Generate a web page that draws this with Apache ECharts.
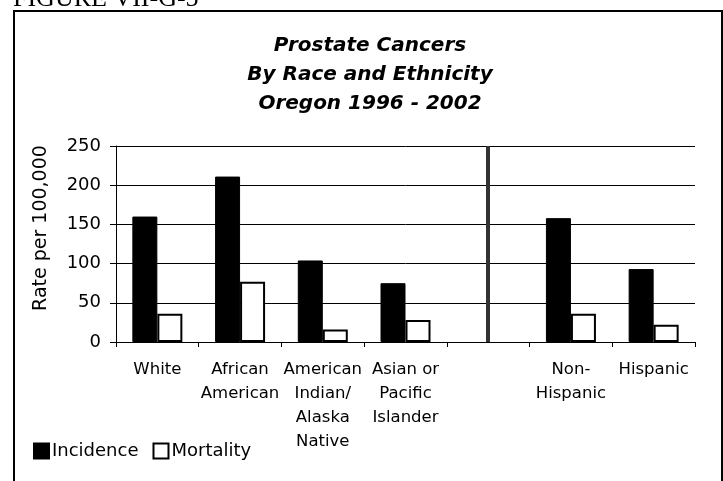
<!DOCTYPE html>
<html>
<head>
<meta charset="utf-8">
<script src="https://cdn.jsdelivr.net/npm/echarts@6/dist/echarts.min.js"></script>
<style>
html, body { margin: 0; padding: 0; background: #fff; }
#chart { width: 723px; height: 481px; }
</style>
</head>
<body>
<div id="chart"></div>
<script>
var categories = ['White', 'African\nAmerican', 'American\nIndian/\nAlaska\nNative', 'Asian or\nPacific\nIslander', '', 'Non-\nHispanic', 'Hispanic'];
var incidence = [160, 211, 104, 75, null, 158, 93];
var mortality = [36, 77, 16, 28, null, 36, 22];
var yTicks = [0, 50, 100, 150, 200, 250];
var separatorAt = 4; // empty slot between race and ethnicity groups

var font = "'DejaVu Sans', Arial, sans-serif";
var chart = echarts.init(document.getElementById('chart'));

var option = {
	animation: false,
	backgroundColor: '#fff',
	title: {
		text: 'Prostate Cancers\nBy Race and Ethnicity\nOregon 1996 - 2002',
		left: 365,
		top: 26,
		textAlign: 'center',
		textStyle: {
			fontFamily: font,
			fontSize: 20,
			fontWeight: 'bold',
			fontStyle: 'italic',
			color: '#000',
			lineHeight: 29
		}
	},
	legend: {
		left: 28,
		top: 437,
		itemWidth: 15,
		itemHeight: 15,
		itemGap: 14,
		textStyle: { fontFamily: font, fontSize: 18, color: '#000', padding: [0, 0, 0, -2] },
		data: [
			{ name: 'Incidence', icon: 'rect' },
			{ name: 'Mortality', icon: 'rect' }
		]
	},
	grid: { left: 116, right: 28, top: 146, bottom: 139 },
	xAxis: {
		type: 'category',
		data: categories,
		axisLine: { lineStyle: { color: '#000', width: 1 } },
		axisTick: { show: true, interval: 0, length: 5, lineStyle: { color: '#000' } },
		axisLabel: {
			interval: 0,
			margin: 16,
			fontFamily: font,
			fontSize: 16.5,
			lineHeight: 24,
			color: '#000'
		}
	},
	yAxis: {
		type: 'value',
		min: yTicks[0],
		max: yTicks[yTicks.length - 1],
		interval: 50,
		name: 'Rate per 100,000',
		nameLocation: 'middle',
		nameGap: 65,
		nameRotate: 90,
		nameTextStyle: { fontFamily: font, fontSize: 19, color: '#000', padding: [0, 0, 0, 32] },
		axisLine: { show: true, lineStyle: { color: '#000', width: 1 } },
		axisTick: { show: true, length: 6, lineStyle: { color: '#000' } },
		axisLabel: { fontFamily: font, fontSize: 18, color: '#000', margin: 15 },
		splitLine: { lineStyle: { color: '#000', width: 1 } }
	},
	series: [
		{
			name: 'Incidence',
			type: 'bar',
			barWidth: 25,
			barGap: '0%',
			data: incidence,
			itemStyle: { color: '#000', borderColor: '#000', borderWidth: 1 }
		},
		{
			name: 'Mortality',
			type: 'bar',
			barWidth: 25,
			data: mortality,
			itemStyle: { color: '#fff', borderColor: '#000', borderWidth: 2 }
		},
		{
			// carrier for the vertical divider, kept off the bar layout
			name: 'divider',
			type: 'line',
			data: [],
			silent: true,
			markLine: {
				silent: true,
				symbol: 'none',
				label: { show: false },
				lineStyle: { color: '#333', width: 4, type: 'solid' },
				data: [{ xAxis: separatorAt }]
			}
		}
	],
	graphic: [
		{
			type: 'rect',
			shape: { x: 14, y: 11, width: 708, height: 500 },
			style: { fill: 'none', stroke: '#000', lineWidth: 2 },
			silent: true
		},
		{
			type: 'text',
			left: 13,
			top: -14,
			style: {
				text: 'FIGURE VII-G-5',
				font: "26px 'Liberation Serif', 'Times New Roman', serif",
				fill: '#000'
			},
			silent: true
		}
	]
};
chart.setOption(option);
</script>
</body>
</html>
